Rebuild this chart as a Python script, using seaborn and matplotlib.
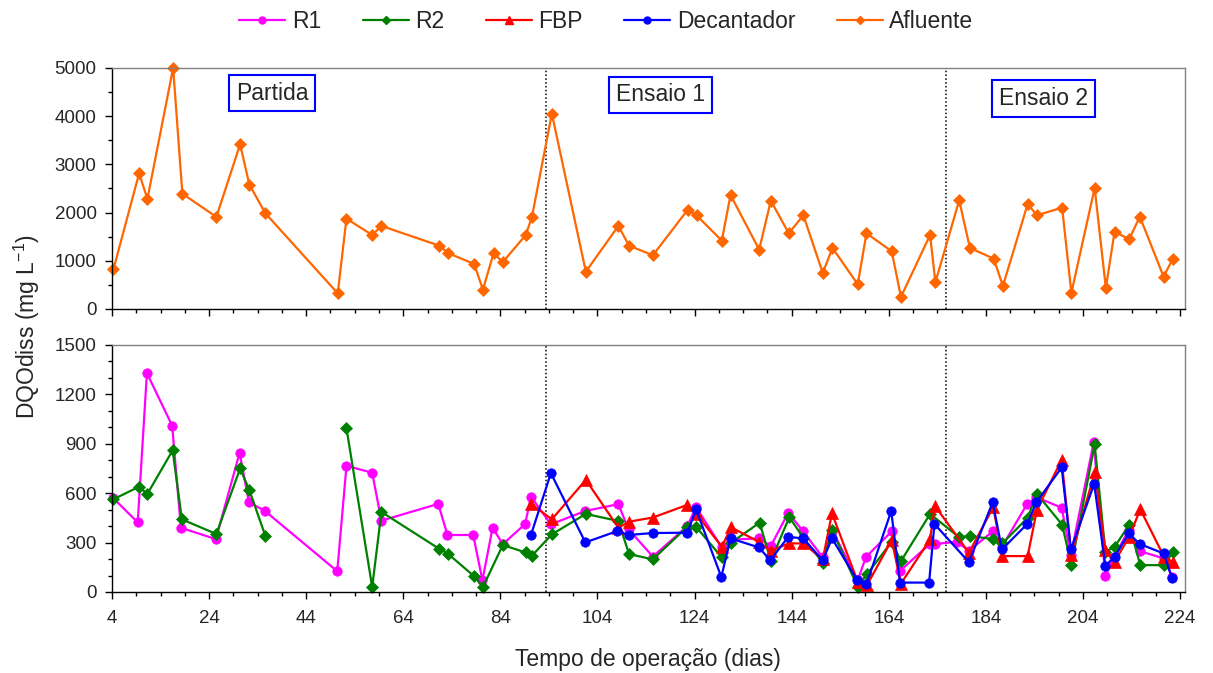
import numpy as np
import pandas as pd
import matplotlib
matplotlib.use("Agg")
import matplotlib.pyplot as plt
from matplotlib.lines import Line2D
from matplotlib.ticker import MultipleLocator
import seaborn as sns

# ---------------- data ----------------
dias_afl = [4.3, 9.6, 11.3, 16.6, 18.5, 25.5, 30.4, 32.3, 35.6, 50.5, 52.3, 57.6, 59.5,
            71.4, 73.3, 78.6, 80.4, 82.6, 84.5, 89.2, 90.5, 94.6, 101.6, 108.3, 110.5,
            115.4, 122.6, 124.4, 129.6, 131.4, 137.3, 139.7, 143.4, 146.4, 150.4, 152.4,
            157.6, 159.4, 164.6, 166.5, 172.5, 173.6, 178.5, 180.7, 185.6, 187.5, 192.6,
            194.5, 199.7, 201.6, 206.4, 208.7, 210.5, 213.5, 215.7, 220.6, 222.5]
afluente = [823, 2815, 2282, 5000, 2393, 1909, 3417, 2580, 1985, 325, 1874, 1535, 1722,
            1314, 1155, 934, 401, 1155, 975, 1529, 1909, 4052, 774, 1722, 1314,
            1114, 2060, 1944, 1418, 2365, 1231, 2247, 1570, 1944, 747, 1266,
            512, 1570, 1197, 249, 1535, 553, 2255, 1266, 1044, 477, 2178,
            1944, 2102, 332, 2510, 436, 1604, 1446, 1915, 670, 1044]

dias_r1 = [4.3, 9.3, 11.2, 16.4, 18.2, 25.4, 30.3, 32.2, 35.5, 50.4, 52.3, 57.6, 59.5,
           71.2, 73.1, 78.4, 80.3, 82.4, 84.5, 89.1, 90.3, 94.4, 101.5, 108.3, 110.4,
           115.4, 122.5, 124.3, 129.6, 131.4, 137.3, 139.7, 143.3, 146.3, 150.4, 152.4,
           157.6, 159.3, 164.6, 166.3, 172.5, 173.5, 178.0, 180.5, 185.4, 187.3, 192.5,
           194.4, 199.6, 201.5, 206.2, 208.6, 210.4, 213.4, 215.7, 220.6, 222.4]
r1 = [569, 423, 1329, 1010, 390, 321, 846, 545, 492, 126, 766, 724, 433,
      535, 346, 346, 71, 390, 290, 413, 579, 411, 492, 533, 380,
      215, 400, 515, 271, 318, 325, 279, 482, 370, 210, 372,
      71, 213, 368, 128, 293, 291, 305, 250, 368, 274, 535,
      575, 512, 224, 909, 96, 213, 376, 248, 204, 90]

# R2 has a sampling gap between day 35 and day 52 (two line segments)
dias_r2 = [4.3, 9.5, 11.3, 16.5, 18.4, 25.5, 30.4, 32.3, 35.6,
           52.3, 57.6, 59.5, 71.3, 73.2, 78.5, 80.4, 84.5, 89.2, 90.5, 94.6, 101.6,
           108.3, 110.5, 115.4, 122.5, 124.3, 129.6, 131.5, 137.4, 139.7, 143.5, 146.4,
           150.4, 152.3, 157.6, 159.5, 164.6, 166.5, 172.5, 178.5, 180.7, 185.5, 187.4,
           192.6, 194.5, 199.7, 201.6, 206.4, 208.6, 210.5, 213.5, 215.8, 220.7, 222.5]
r2 = [563, 638, 596, 860, 441, 352, 750, 618, 340,
      994, 30, 486, 264, 232, 98, 30, 285, 240, 220, 350, 474,
      431, 230, 198, 396, 396, 210, 299, 421, 189, 454, 330,
      177, 376, 30, 108, 305, 187, 474, 332, 340, 321, 295,
      451, 596, 409, 165, 896, 244, 274, 407, 163, 163, 242]
trecho_r2 = [1] * 9 + [2] * 45

dias_fbp = [90.3, 94.6, 101.6, 108.3, 110.5, 115.4, 122.5, 124.4, 129.6, 131.5, 137.2,
            139.7, 143.4, 146.4, 150.4, 152.3, 157.6, 159.5, 164.6, 166.5, 172.5, 173.5,
            180.5, 185.5, 187.4, 192.6, 194.5, 199.6, 201.6, 206.4, 208.6, 210.5, 213.5,
            215.8, 220.7, 222.5]
fbp = [535, 441, 681, 390, 427, 452, 529, 474, 274, 393, 305,
       250, 295, 295, 198, 478, 61, 41, 315, 51, 320, 523,
       238, 515, 218, 218, 498, 803, 224, 726, 254, 183, 335,
       502, 213, 183]

dias_dec = [90.3, 94.4, 101.5, 108.1, 110.4, 115.4, 122.5, 124.3, 129.5, 131.4, 137.2,
            139.6, 143.3, 146.3, 150.4, 152.3, 157.5, 159.4, 164.5, 166.3, 172.3, 173.4,
            180.5, 185.4, 187.3, 192.5, 194.4, 199.6, 201.5, 206.3, 208.6, 210.5, 213.4,
            215.7, 220.6, 222.4]
decantador = [346, 722, 301, 370, 346, 358, 360, 502, 91, 325, 271,
              193, 335, 325, 193, 325, 71, 47, 492, 57, 57, 413,
              181, 545, 258, 413, 545, 756, 258, 657, 159, 213, 356,
              291, 234, 82]

fases = ["Partida", "Ensaio 1", "Ensaio 2"]
fases_x = [37.0, 116.9, 195.8]
fases_y = [4480, 4440, 4360]
limites_fases = [93.3, 175.7]

cores = {"R1": "#FF00FF", "R2": "#008000", "FBP": "#FF0000",
         "Decantador": "#0000FF", "Afluente": "#FF6600"}

# ---------------- style ----------------
sns.set_theme(style="ticks")
plt.rcParams["font.family"] = ["Liberation Sans", "DejaVu Sans"]
plt.rcParams["mathtext.default"] = "regular"
plt.rcParams["axes.linewidth"] = 1.0

fig = plt.figure(figsize=(12.13, 6.73), dpi=100)
ax1 = fig.add_axes([0.0923, 0.5409, 0.8846, 0.3581])
ax2 = fig.add_axes([0.0923, 0.1204, 0.8846, 0.3670])

line_kw = dict(linewidth=1.6, clip_on=False, estimator=None, sort=False)

# top panel: influent
sns.lineplot(x=dias_afl, y=afluente, ax=ax1, color=cores["Afluente"], marker="D",
             markersize=6.3, markeredgecolor=cores["Afluente"], markeredgewidth=0.5,
             **line_kw)

# bottom panel: reactors and settler
sns.lineplot(x=dias_r1, y=r1, ax=ax2, color=cores["R1"], marker="o", markersize=6.8,
             markeredgecolor=cores["R1"], markeredgewidth=0.5, **line_kw)
df_r2 = pd.DataFrame({"dia": dias_r2, "dqo": r2, "trecho": trecho_r2})
sns.lineplot(data=df_r2, x="dia", y="dqo", units="trecho", ax=ax2, color=cores["R2"],
             marker="D", markersize=5.8, markeredgecolor=cores["R2"],
             markeredgewidth=0.5, **line_kw)
sns.lineplot(x=dias_fbp, y=fbp, ax=ax2, color=cores["FBP"], marker="^", markersize=8.5,
             markeredgecolor=cores["FBP"], markeredgewidth=0.5, **line_kw)
sns.lineplot(x=dias_dec, y=decantador, ax=ax2, color=cores["Decantador"], marker="o",
             markersize=6.8, markeredgecolor=cores["Decantador"], markeredgewidth=0.5,
             **line_kw)

for ax in (ax1, ax2):
    ax.set_xlim(4, 225)
    ax.xaxis.set_major_locator(MultipleLocator(20, offset=4))
    ax.xaxis.set_minor_locator(MultipleLocator(5, offset=4))
    ax.set_xlabel("")
    ax.set_ylabel("")
    ax.tick_params(which="major", direction="out", length=5, width=1, color="black",
                   labelsize=13.5, pad=6)
    ax.tick_params(which="minor", direction="out", length=3, width=1, color="black")
    for s in ("left", "bottom"):
        ax.spines[s].set_color("black")
    for s in ("top", "right"):
        ax.spines[s].set_color("#808080")
    for xv in limites_fases:
        ax.axvline(xv, color="black", linestyle=(0, (1, 1.5)), linewidth=1.1, zorder=1)

ax1.set_ylim(0, 5000)
ax1.yaxis.set_major_locator(MultipleLocator(1000))
ax1.yaxis.set_minor_locator(MultipleLocator(500))
ax1.tick_params(axis="x", which="both", labelbottom=False)

ax2.set_ylim(0, 1500)
ax2.yaxis.set_major_locator(MultipleLocator(300))
ax2.yaxis.set_minor_locator(MultipleLocator(100))
ax2.tick_params(axis="x", which="major", pad=8)

for nome, xv, yv in zip(fases, fases_x, fases_y):
    ax1.text(xv, yv, nome, ha="center", va="center", fontsize=16.5,
             bbox=dict(boxstyle="square,pad=0.3", facecolor="white",
                       edgecolor="#0000FF", linewidth=1.5))

fig.text(0.022, 0.515, "DQOdiss (mg L$^{-1}$)", rotation=90, ha="center",
         va="center", fontsize=16.5)
fig.text(0.534, 0.02, "Tempo de operação (dias)", ha="center", va="center",
         fontsize=16.5)

handles = [
    Line2D([], [], color=cores["R1"], marker="o", markersize=5, lw=1.6),
    Line2D([], [], color=cores["R2"], marker="D", markersize=4.5, lw=1.6),
    Line2D([], [], color=cores["FBP"], marker="^", markersize=6, lw=1.6),
    Line2D([], [], color=cores["Decantador"], marker="o", markersize=5, lw=1.6),
    Line2D([], [], color=cores["Afluente"], marker="D", markersize=4.5, lw=1.6),
]
labels = ["R1", "R2", "FBP", "Decantador", "Afluente"]
fig.legend(handles, labels, loc="center", bbox_to_anchor=(0.5, 0.968), ncol=5,
           frameon=False, fontsize=16.5, handlelength=2.0, columnspacing=1.8,
           handletextpad=0.3)

fig.savefig("out.png", dpi=100)
